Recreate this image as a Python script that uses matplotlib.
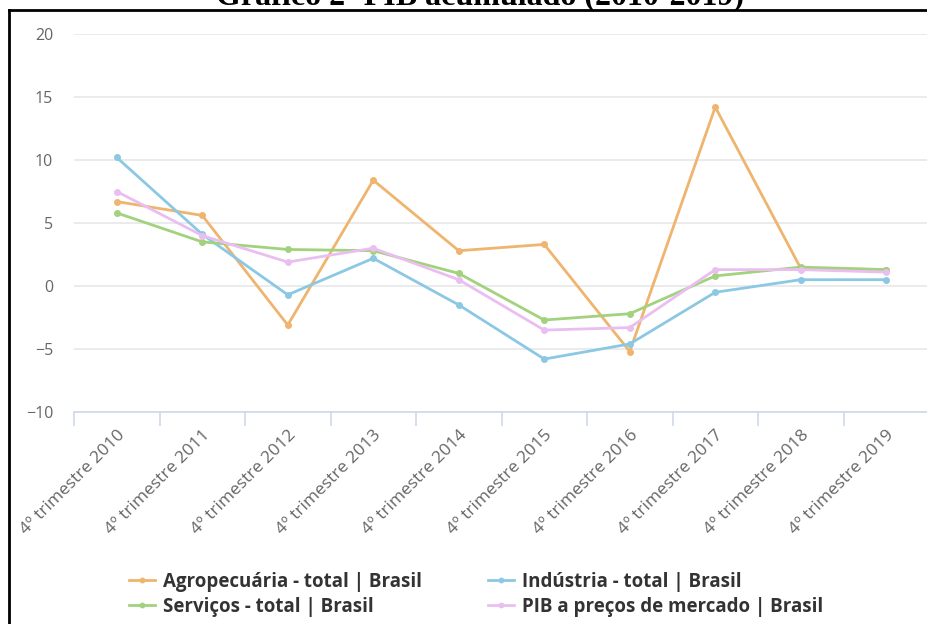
import matplotlib.pyplot as plt
from matplotlib.lines import Line2D
import numpy as np

anos = ['2010', '2011', '2012', '2013', '2014', '2015', '2016', '2017', '2018', '2019']
rotulos = ['4º trimestre ' + a for a in anos]

agro = [6.7, 5.6, -3.1, 8.4, 2.8, 3.3, -5.2, 14.2, 1.4, 1.3]
industria = [10.2, 4.1, -0.7, 2.2, -1.5, -5.8, -4.6, -0.5, 0.5, 0.5]
servicos = [5.8, 3.5, 2.9, 2.8, 1.0, -2.7, -2.2, 0.8, 1.5, 1.3]
pib = [7.5, 4.0, 1.9, 3.0, 0.5, -3.5, -3.3, 1.3, 1.3, 1.1]

series = [
    ('Agropecuária - total | Brasil', agro, '#efb46e'),
    ('Indústria - total | Brasil', industria, '#8cc8e4'),
    ('Serviços - total | Brasil', servicos, '#a2d27e'),
    ('PIB a preços de mercado | Brasil', pib, '#ebbef1'),
]

plt.rcParams['font.family'] = ['Open Sans', 'DejaVu Sans']

fig = plt.figure(figsize=(9.28, 6.24), dpi=100)
ax = fig.add_axes([74 / 928, 1 - 412 / 624, 855 / 928, 378 / 624])

x = np.arange(len(anos))
linhas = []
for nome, vals, cor in series:
    l, = ax.plot(x, vals, color=cor, lw=2.0, marker='o', ms=4, label=nome,
                 solid_joinstyle='round')
    linhas.append(l)

ax.set_xlim(-0.5, 9.5)
ax.set_ylim(-10, 20)
ax.set_yticks([-10, -5, 0, 5, 10, 15, 20])
ax.set_yticklabels(['\u221210', '\u22125', '0', '5', '10', '15', '20'])
ax.grid(axis='y', color='#e6e6e6', lw=1.1)
ax.set_axisbelow(True)
for s in ['top', 'right', 'left']:
    ax.spines[s].set_visible(False)
ax.spines['bottom'].set_color('#ccd6eb')
ax.spines['bottom'].set_linewidth(1.1)
ax.tick_params(axis='y', length=0, pad=15, labelsize=11.5, labelcolor='#666666')

# ticks between categories
ax.set_xticks(np.arange(-0.5, 10, 1.0))
ax.set_xticklabels([])
ax.tick_params(axis='x', which='major', length=10, color='#ccd6eb', width=1.1)
ax.set_xticks(x, minor=True)
ax.set_xticklabels(rotulos, minor=True, rotation=45, ha='right', va='top',
                   rotation_mode='anchor', fontsize=12.5, color='#666666')
ax.tick_params(axis='x', which='minor', length=0, pad=11)

ordem = [0, 2, 1, 3]
leg = fig.legend([linhas[i] for i in ordem], [series[i][0] for i in ordem],
                 loc='upper left', bbox_to_anchor=(121 / 928, 1 - 564 / 624),
                 ncol=2, frameon=False, handlelength=1.4, handletextpad=0.45,
                 columnspacing=3.5, labelspacing=0.28, markerscale=0.8,
                 borderaxespad=0, prop={'weight': 'bold', 'size': 13.5})
for t in leg.get_texts():
    t.set_color('#333333')

# title (cut off at the top) and frame
fig.text(0.517, 1 - 4 / 624, 'Gráfico 2- PIB acumulado (2010-2019)',
         ha='center', va='baseline', family='Liberation Serif',
         weight='bold', fontsize=23)
fig.add_artist(Line2D([9 / 928, 1], [1 - 10 / 624, 1 - 10 / 624],
                      color='black', lw=2, transform=fig.transFigure))
fig.add_artist(Line2D([9 / 928, 9 / 928], [0, 1 - 10 / 624],
                      color='black', lw=2, transform=fig.transFigure))

fig.savefig('out.png', dpi=100)
